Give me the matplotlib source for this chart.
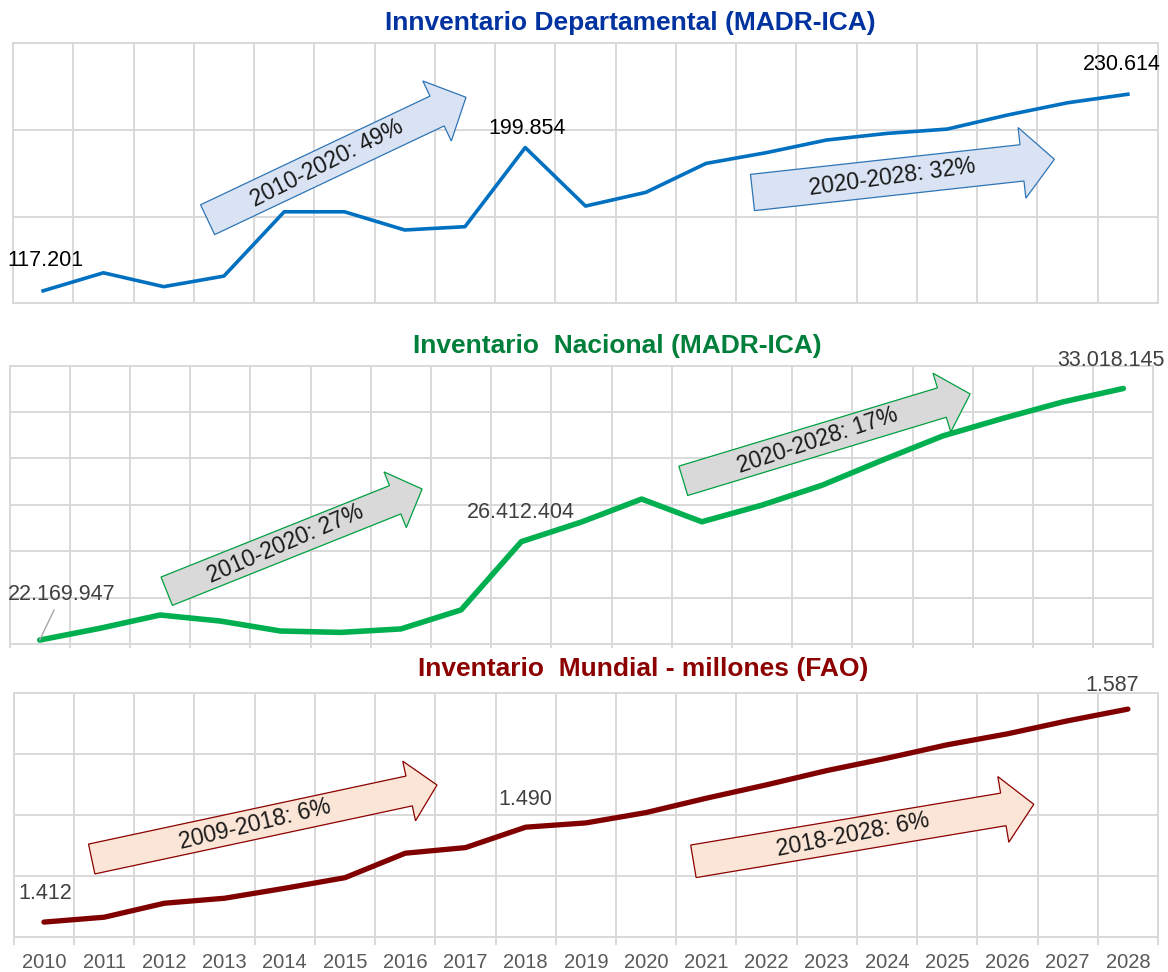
import numpy as np
import matplotlib.pyplot as plt
from matplotlib.patches import Polygon

# ── data ───────────────────────────────────────────────────────────────────
years = list(range(2010, 2029))
year_labels = [str(y) for y in years]

departamental = [117201, 127600, 119600, 125700, 162800, 162800, 152300, 154200,
                 199854, 166100, 174000, 190700, 196900, 204200, 208000, 210500,
                 218600, 225700, 230614]
nacional = [22169947, 22677000, 23250000, 22990000, 22560000, 22500000, 22650000,
            23470000, 26412404, 27260000, 28250000, 27270000, 27990000, 28850000,
            29930000, 30970000, 31730000, 32440000, 33018145]
mundial = [1412, 1416, 1427.5, 1431.6, 1439.8, 1448.5, 1468.6, 1473.2, 1490,
           1493.5, 1502, 1513.8, 1524.8, 1536.5, 1546.7, 1557.7, 1566.7, 1577.4, 1587]

titles = ['Innventario Departamental (MADR-ICA)',
          'Inventario  Nacional (MADR-ICA)',
          'Inventario  Mundial - millones (FAO)']
arrow_texts = [['2010-2020: 49%', '2020-2028: 32%'],
               ['2010-2020: 27%', '2020-2028: 17%'],
               ['2009-2018: 6%', '2018-2028: 6%']]

W, H = 1168, 972
GRID = '#D9D9D9'
plt.rcParams['font.family'] = ['Liberation Sans', 'DejaVu Sans']
TITLE_FONT = ['Liberation Sans Narrow', 'Liberation Sans', 'DejaVu Sans']

fig = plt.figure(figsize=(W / 100, H / 100), dpi=100)


def add_panel(x0, y0, x1, y1):
    return fig.add_axes([x0 / W, 1 - y1 / H, (x1 - x0) / W, (y1 - y0) / H])


def fmt(v):
    return f'{v:,.0f}'.replace(',', '.')


def style(ax, ylim, ystep):
    ax.set_xlim(-0.5, len(years) - 0.5)
    ax.set_ylim(*ylim)
    ax.set_yticks(np.arange(ylim[0], ylim[1] + ystep / 2, ystep))
    ax.set_xticks(np.arange(-0.5, len(years), 1), minor=True)
    ax.set_xticks(range(len(years)))
    ax.grid(True, axis='y', which='major', color=GRID, lw=1.4)
    ax.grid(True, axis='x', which='minor', color=GRID, lw=1.4)
    ax.set_axisbelow(True)
    for s in ax.spines.values():
        s.set_color(GRID)
        s.set_linewidth(1.4)
    ax.tick_params(axis='y', left=False, labelleft=False)
    ax.tick_params(axis='x', which='major', length=0, labelbottom=False)
    ax.tick_params(axis='x', which='minor', length=0)


def block_arrow(tail, tip, shaft_w, head_w, head_len, fc, ec, text):
    t = np.array(tail, float)
    p = np.array(tip, float)
    d = p - t
    u = d / np.hypot(*d)
    n = np.array([-u[1], u[0]])
    b = p - u * head_len
    pts = [t + n * shaft_w / 2, b + n * shaft_w / 2, b + n * head_w / 2, p,
           b - n * head_w / 2, b - n * shaft_w / 2, t - n * shaft_w / 2]
    pts = [(x / W, 1 - y / H) for x, y in pts]
    fig.patches.append(Polygon(pts, closed=True, transform=fig.transFigure,
                               fc=fc, ec=ec, lw=0.9, zorder=3))
    ang = np.degrees(np.arctan2(-d[1], d[0]))
    mid = (t + b) / 2 + u * 5
    fig.text(mid[0] / W, 1 - mid[1] / H, text, rotation=ang + 1.5,
             rotation_mode='anchor', ha='center', va='center',
             fontsize=16.5, color='#1a1a1a', zorder=4)


x = np.arange(len(years))

# ── Panel 1: Departamental ─────────────────────────────────────────────────
ax1 = add_panel(13, 43.3, 1158, 303.3)
style(ax1, (110000, 260000), 50000)
ax1.plot(x, departamental, color='#0070C0', lw=2.6, solid_joinstyle='round')
for i, off in [(0, (2, 30)), (8, (2, 19)), (18, (-6, 30))]:
    ax1.annotate(fmt(departamental[i]), (x[i], departamental[i]), xytext=off,
                 textcoords='offset pixels', ha='center', va='center',
                 fontsize=15.5, color='black')
fig.text(630 / W, 1 - 23 / H, titles[0], ha='center', va='center',
         fontsize=19, fontweight='bold', color='#0033A0', family=TITLE_FONT)
block_arrow((207.6, 219.7), (466, 97.3), 33, 66.5, 32,
            '#DAE3F3', '#2E75B6', arrow_texts[0][0])
block_arrow((752.5, 192.5), (1054.4, 159.3), 36.5, 71, 32.6,
            '#DAE3F3', '#2E75B6', arrow_texts[0][1])

# ── Panel 2: Nacional ──────────────────────────────────────────────────────
ax2 = add_panel(9.6, 365.7, 1153.4, 644)
style(ax2, (22e6, 34e6), 2e6)
ax2.tick_params(axis='x', which='minor', length=3, width=1.4, color=GRID)
ax2.plot(x, nacional, color='#00B050', lw=4, solid_joinstyle='round',
         solid_capstyle='round')
ax2.annotate(fmt(nacional[0]), (x[0], nacional[0]), xytext=(22, 46),
             textcoords='offset pixels', ha='center', va='center',
             fontsize=15.5, color='#404040',
             arrowprops=dict(arrowstyle='-', color='#A6A6A6', lw=1,
                             shrinkA=2, shrinkB=0))
for i, off in [(8, (0, 29)), (18, (-12, 28))]:
    ax2.annotate(fmt(nacional[i]), (x[i], nacional[i]), xytext=off,
                 textcoords='offset pixels', ha='center', va='center',
                 fontsize=15.5, color='#404040')
fig.text(617 / W, 1 - 346 / H, titles[1], ha='center', va='center',
         fontsize=19, fontweight='bold', color='#007F3A', family=TITLE_FONT)
block_arrow((166.7, 591.2), (422.1, 489), 30.5, 60, 29,
            '#D9D9D9', '#00A040', arrow_texts[1][0])
block_arrow((683.3, 480.8), (970.2, 394), 30.7, 61.4, 29.6,
            '#D9D9D9', '#00A040', arrow_texts[1][1])

# ── Panel 3: Mundial ───────────────────────────────────────────────────────
ax3 = add_panel(13.8, 693.3, 1158, 936.7)
style(ax3, (1400, 1600), 50)
ax3.plot(x, mundial, color='#800000', lw=3.8, solid_joinstyle='round',
         solid_capstyle='round')
for i, off in [(0, (1, 29)), (8, (0, 28)), (18, (-16, 24))]:
    ax3.annotate(fmt(mundial[i]), (x[i], mundial[i]), xytext=off,
                 textcoords='offset pixels', ha='center', va='center',
                 fontsize=15.5, color='#404040')
ax3.set_xticklabels(year_labels)
ax3.tick_params(axis='x', which='major', labelbottom=True, labelsize=14.5,
                labelcolor='#595959', pad=12)
ax3.tick_params(axis='x', which='minor', length=6, width=1.4, color=GRID)
fig.text(643.5 / W, 1 - 669 / H, titles[2], ha='center', va='center',
         fontsize=19, fontweight='bold', color='#8C0000', family=TITLE_FONT)
block_arrow((91.7, 859), (437, 785), 30.5, 61, 28.5,
            '#FBE5D6', '#8B0000', arrow_texts[2][0])
block_arrow((693.4, 861.3), (1033.8, 804.3), 33, 66.6, 30.9,
            '#FBE5D6', '#8B0000', arrow_texts[2][1])

fig.savefig('out.png', dpi=100)
